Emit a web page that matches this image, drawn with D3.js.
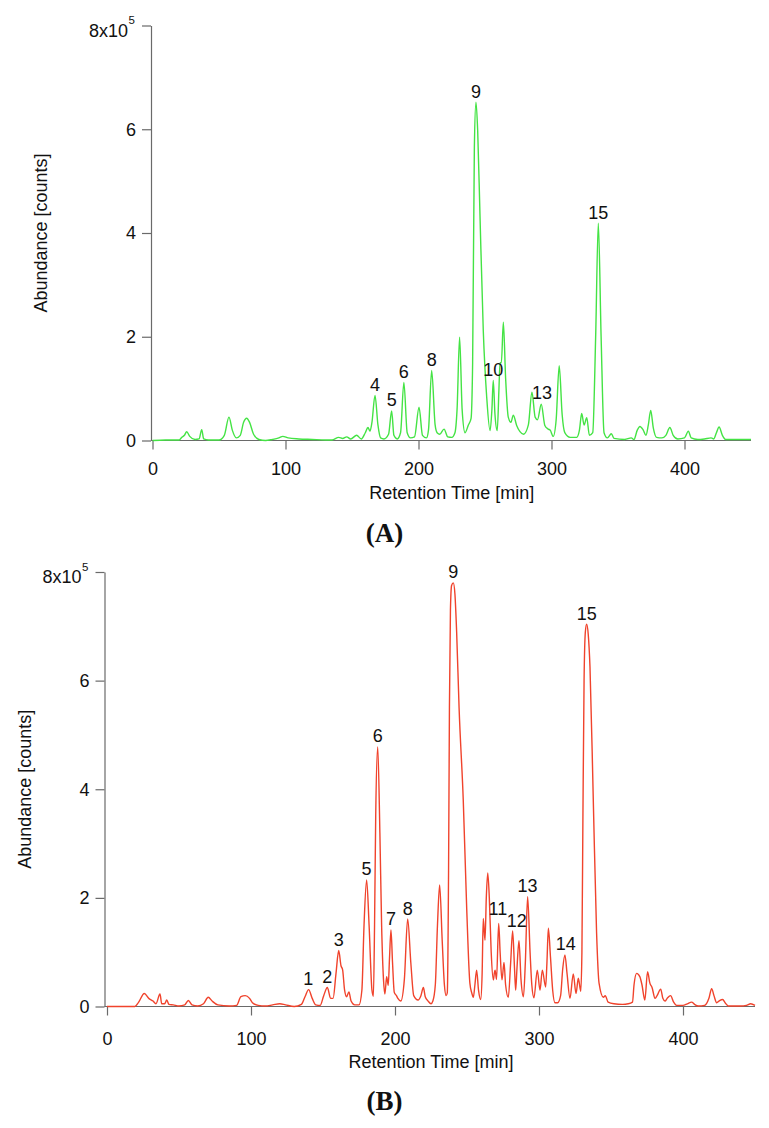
<!DOCTYPE html>
<html>
<head>
<meta charset="utf-8">
<script src="https://cdn.jsdelivr.net/npm/d3@7"></script>
<style>
  html, body { margin: 0; padding: 0; background: #fff; }
  svg { display: block; }
  text { font-family: "Liberation Sans", Arial, sans-serif; fill: #111; }
</style>
</head>
<body>
<svg id="chart" width="769" height="1128"></svg>
<script>
// ---------------- DATA ----------------
const xTicks = [0, 100, 200, 300, 400];
const yTicks = [0, 2, 4, 6, 8];
const xTitle = "Retention Time [min]";
const yTitle = "Abundance [counts]";
const panelNames = ["(A)", "(B)"];

// Panel A (green) — retention time [min] and abundance [x10^5 counts]
const timeA = [0,10,20,22,24,25.7,28,32,35,37,38.5,42,50,54,57.5,60,63,66,68.5,70.8,73,76,80,85,90,95,98,102,110,120,130,135,140,143,146,149,153.5,157,160,162,163.5,165,167.3,169.5,171.5,174,177.5,179.8,181.5,184,186.5,189,191.5,194,197,200.4,203,206,207.5,209.9,212.5,214,216,219.2,222,225,227.4,229,230.9,232.8,235,237.5,239.5,240.7,242,243.2,244.5,246.2,248.7,251.3,253.8,255.2,256.2,257.5,259.2,260.5,261.3,262.3,263.8,265.5,267.5,269.5,271.3,273.8,276.3,279,282.6,285.3,287.7,289.5,292.3,295,297.5,299,301.3,303.5,305.8,308,310,314,318.9,321,322.7,324.5,326.5,328.5,331,333.2,335.2,337.3,339.5,342,345,347,355,360,362,364.5,366.5,369,371,372.8,374.6,376.5,379,383,386,389,391.5,395,400,402.9,405,410,415,420,422,424,426,428.5,431,440,450];
const abundA = [0,0.01,0.01,0.06,0.1,0.17,0.08,0.02,0.03,0.21,0.03,0.01,0.01,0.1,0.45,0.2,0.05,0.1,0.35,0.43,0.35,0.12,0.02,0,0.02,0.05,0.08,0.05,0.03,0.02,0.01,0.01,0.06,0.04,0.07,0.03,0.1,0.03,0.15,0.25,0.18,0.35,0.87,0.3,0.05,0.03,0.12,0.57,0.1,0.03,0.15,1.12,0.15,0.05,0.07,0.64,0.1,0.05,0.2,1.35,0.3,0.15,0.12,0.22,0.07,0.06,0.15,0.6,1.99,0.6,0.15,0.3,0.42,1.5,5.65,6.52,5.97,4.37,2.12,0.83,0.19,0.6,1.16,0.5,0.19,1.0,1.5,1.5,2.28,1.2,0.45,0.35,0.49,0.29,0.17,0.12,0.3,0.93,0.45,0.4,0.7,0.29,0.22,0.2,0.08,0.4,1.44,0.5,0.15,0.06,0.06,0.2,0.52,0.3,0.44,0.1,0.15,2.0,4.19,2.0,0.15,0.05,0.13,0.04,0.02,0.05,0.02,0.2,0.27,0.2,0.1,0.3,0.58,0.25,0.06,0.05,0.1,0.25,0.1,0.03,0.05,0.18,0.05,0.02,0.03,0.05,0.03,0.15,0.26,0.1,0.02,0.02,0.02];
const peakNamesA = ["4","5","6","8","9","10","13","15"];
const peakTimesA = [167.3,179.8,189,209.9,243.2,256.2,292.9,335.2];
const peakAbundA = [0.87,0.57,1.12,1.35,6.52,1.16,0.71,4.19];

// Panel B (red)
const timeB = [0,10,19.4,22,25.9,29,32,34,36.8,38,40,41.5,43,46,50,54,56.5,59,63,67,70.3,73,77,85,90,93,96,99,101,105,110,115,120,124,130,135,137.5,140,142.5,145,148,150.5,153,155.3,157,159,160.9,162.5,163.6,165,166.4,168,169.5,172,175,177,178.5,180.3,182,184,185,185.8,186.6,188,189.5,190.7,192,193,194.2,195.3,196.2,197.2,198.3,199.5,201,202,204,206.5,208.8,211,213,216,218,219.7,221,223,225,226.3,228,229.5,231,232.8,234.3,235.5,236.3,237.2,237.8,238.5,239.3,240.5,241.6,242.8,244.5,247.4,249.8,252,253.3,254.4,255.5,256.7,258,259.5,260.5,261.3,262.5,263.4,264.4,265.5,266.8,268.3,268.9,269.5,270.5,272,273,274.3,275.7,276.8,278.7,280.3,281.7,283,283.8,284.7,286.1,287.5,289.2,290.5,292.1,293.8,295,296.5,298.8,300.7,302.3,304.6,305.5,306.5,308,309.5,311.1,313,315,316.5,318,319.5,321.5,323.8,325.7,327.3,329,329.8,330.5,331.3,332.2,333.1,334.2,335.4,337.7,340,341.7,344.7,346,348,352,358,362,364.9,366,367.8,370,371.5,373.5,375.4,377,378.5,380.6,382,384.5,386,387.5,389,391.4,393.5,395.6,400,403,406,408,410.6,415,418,419.9,421.5,423.4,425,427.5,429.5,431.4,440,444,447,450];
const abundB = [0,0,0,0.08,0.24,0.15,0.1,0.05,0.23,0.05,0.05,0.12,0.04,0.03,0.01,0.03,0.11,0.03,0.01,0.05,0.17,0.1,0.03,0.01,0.02,0.18,0.2,0.15,0.07,0.02,0.01,0.03,0.05,0.03,0,0.04,0.18,0.31,0.15,0.03,0.02,0.2,0.35,0.15,0.15,0.6,1.03,0.75,0.68,0.3,0.18,0.27,0.1,0.03,0.03,0.3,1.5,2.33,1.5,0.3,0.19,1.5,3.5,4.78,3.2,1.5,0.5,0.23,0.55,0.39,0.9,1.41,0.8,0.26,0.2,0.15,0.1,0.5,1.61,0.8,0.2,0.12,0.2,0.35,0.18,0.1,0.05,0.1,0.4,1.5,2.24,1.2,0.4,0.2,0.25,2.5,5.5,7.3,7.75,7.8,7.6,6.9,5.5,3.8,1.8,0.43,0.25,0.17,0.4,0.67,0.3,0.13,0.6,1.62,1.22,2.0,2.46,2.0,1.0,0.49,0.6,0.67,0.5,1.53,1.0,0.49,0.81,0.4,0.17,0.8,1.39,0.7,0.3,0.7,1.21,0.5,0.18,0.8,2.02,1.0,0.4,0.16,0.67,0.3,0.67,0.36,0.8,1.44,0.9,0.3,0.07,0.07,0.2,0.7,0.95,0.6,0.15,0.6,0.24,0.52,0.28,1.0,3.5,6.0,6.9,7.04,6.85,6.26,3.8,1.35,0.43,0.17,0.2,0.08,0.05,0.04,0.05,0.08,0.4,0.61,0.55,0.4,0.12,0.64,0.43,0.35,0.15,0.2,0.32,0.15,0.1,0.15,0.2,0.08,0.02,0.02,0.05,0.08,0.04,0.01,0.02,0.15,0.33,0.2,0.07,0.1,0.13,0.06,0.01,0.01,0.02,0.05,0.02];
const peakNamesB = ["1","2","3","5","6","7","8","9","11","12","13","14","15"];
const peakTimesB = [139.8,153,160.9,180.3,188,197.2,208.8,240.5,271.5,284.5,292.1,318.6,333.1];
const peakAbundB = [0.31,0.35,1.03,2.33,4.78,1.41,1.61,7.8,1.6,1.39,2.02,0.95,7.04];

// ---------------- LAYOUT ----------------
const svg = d3.select("#chart");
const panels = [
  { time: timeA, abund: abundA, names: peakNamesA, pt: peakTimesA, pv: peakAbundA,
    color: "#44e344", xr: [152.5, 751], yr: [440.5, 25.5], yAxisX: 151,
    xLabelY: 475, xTitleY: 498.5, yTitleX: 41, panelY: 542 },
  { time: timeB, abund: abundB, names: peakNamesB, pt: peakTimesB, pv: peakAbundB,
    color: "#f0432c", xr: [107, 755], yr: [1006.5, 572], yAxisX: 104.5,
    xLabelY: 1045, xTitleY: 1068, yTitleX: 25, panelY: 1110 }
];

panels.forEach((p, i) => {
  const x = d3.scaleLinear().domain([0, 450]).range(p.xr);
  const y = d3.scaleLinear().domain([0, 8]).range(p.yr);
  const g = svg.append("g");
  const axisColor = "#6a6a6a";

  // X axis
  const xa = g.append("g")
    .attr("transform", `translate(0,${y(0)})`)
    .call(d3.axisBottom(x).tickValues(xTicks).tickSize(9).tickSizeOuter(0).tickPadding(0));
  xa.select(".domain").attr("stroke", axisColor).attr("stroke-width", 1.2)
    .attr("d", `M${p.yAxisX},0H${x(450)}`);
  xa.selectAll(".tick line").attr("stroke", axisColor).attr("stroke-width", 1.2);
  xa.selectAll(".tick text").attr("font-size", 18).attr("fill", "#111")
    .attr("dy", null).attr("y", p.xLabelY - y(0));

  // Y axis
  const ya = g.append("g")
    .attr("transform", `translate(${p.yAxisX},0)`)
    .call(d3.axisLeft(y).tickValues(yTicks).tickSize(9).tickSizeOuter(0).tickPadding(6)
      .tickFormat(d => d === 8 ? "8x10" : String(d)));
  ya.select(".domain").attr("stroke", axisColor).attr("stroke-width", 1.2);
  ya.selectAll(".tick line").attr("stroke", axisColor).attr("stroke-width", 1.2);
  ya.selectAll(".tick text").attr("font-size", 18).attr("fill", "#111");
  const top = ya.selectAll(".tick").filter(d => d === 8);
  top.select("text").attr("x", -23).attr("dy", null).attr("y", 10.5);
  top.append("text")
    .attr("x", -22.5).attr("y", -2).attr("text-anchor", "start")
    .attr("font-size", 11.5).attr("fill", "#111").text("5");

  // Titles
  g.append("text").attr("x", (p.xr[0] + p.xr[1]) / 2).attr("y", p.xTitleY)
    .attr("text-anchor", "middle").attr("font-size", 18).text(xTitle);
  g.append("text")
    .attr("transform", `translate(${p.yTitleX},${(p.yr[0] + p.yr[1]) / 2}) rotate(-90)`)
    .attr("text-anchor", "middle").attr("dy", "0.35em").attr("font-size", 18).text(yTitle);
  g.append("text").attr("x", 384.5).attr("y", p.panelY).attr("text-anchor", "middle")
    .style("font-family", "'Liberation Serif', 'Times New Roman', serif")
    .attr("font-weight", "bold").attr("font-size", 27).text(panelNames[i]);

  // Trace
  const pts = p.time.map((t, k) => [t, p.abund[k]]);
  const line = d3.line().x(d => x(d[0])).y(d => y(d[1])).curve(d3.curveMonotoneX);
  g.append("path").datum(pts).attr("d", line)
    .attr("fill", "none").attr("stroke", p.color).attr("stroke-width", 1.4)
    .attr("stroke-linejoin", "round");

  // Peak labels
  g.selectAll(".peak").data(p.names).enter().append("text")
    .attr("class", "peak")
    .attr("x", (d, k) => x(p.pt[k]))
    .attr("y", (d, k) => y(p.pv[k]) - 4.5)
    .attr("text-anchor", "middle").attr("font-size", 18).text(d => d);
});
</script>
</body>
</html>
